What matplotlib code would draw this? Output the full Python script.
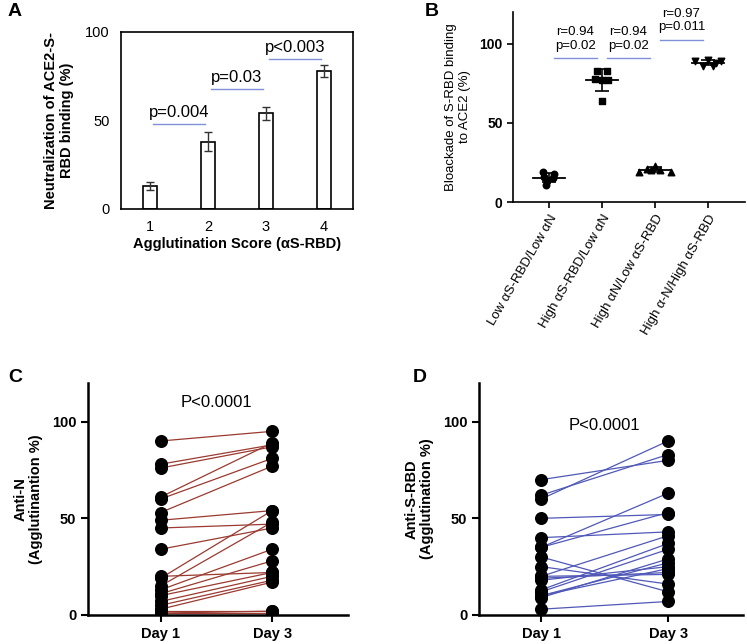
import matplotlib
matplotlib.use("Agg")
import matplotlib.pyplot as plt
import numpy as np

plt.rcParams['font.family'] = ['Liberation Sans', 'DejaVu Sans']

# ---- Panel A data ----
a_scores = [1, 2, 3, 4]
a_values = [13, 38, 54, 78]
a_err = [2, 5.5, 3.5, 3.5]
a_pairs = [(1.05, 1.95, 48, "p=0.004"), (2.05, 2.95, 68, "p=0.03"), (3.05, 3.95, 85, "p<0.003")]

# ---- Panel B data ----
b_groups = ["Low αS-RBD/Low αN", "High αS-RBD/Low αN", "High αN/Low αS-RBD", "High α-N/High αS-RBD"]
b_g1 = [19, 18, 16, 15, 13, 11]
b_g2 = [83, 83, 78, 77, 77, 64]
b_g3 = [23, 21, 20, 20, 19, 19]
b_g4 = [90, 89, 89, 86, 86, 88]
b_jitter = [
    [-0.12, 0.1, -0.1, 0.08, -0.03, -0.05],
    [-0.1, 0.1, -0.13, 0.0, 0.12, 0.0],
    [0.0, -0.15, -0.08, 0.1, -0.3, 0.3],
    [0.0, -0.25, 0.25, -0.1, 0.1, 0.15],
]
b_markers = ['o', 's', '^', 'v']
b_annots = [(0.2, 0.8, 91, "r=0.94\np=0.02"), (1.2, 1.8, 91, "r=0.94\np=0.02"), (2.2, 2.8, 102.5, "r=0.97\np=0.011")]

# ---- Panel C data ----
c_day1 = [90, 78, 76, 61, 60, 53, 49, 45, 34, 19, 15, 20, 13, 11, 10, 7, 5, 3, 1, 1, 2]
c_day3 = [95, 88, 87, 89, 81, 77, 54, 47, 45, 54, 48, 22, 34, 28, 22, 20, 18, 17, 2, 1, 2]

# ---- Panel D data ----
d_day1 = [70, 62, 60, 50, 40, 35, 35, 30, 25, 20, 19, 18, 13, 12, 10, 10, 9, 3, 20]
d_day3 = [80, 83, 90, 52, 43, 63, 53, 12, 16, 41, 22, 25, 37, 34, 27, 24, 29, 7, 21]
days = ["Day 1", "Day 3"]

W, H = 747, 644
fig = plt.figure(figsize=(W/100, H/100), dpi=100)

def rect(l, r, t, b):
    return [l/W, 1-b/H, (r-l)/W, (b-t)/H]

# ---------- A ----------
axA = fig.add_axes(rect(121, 353, 32, 209))
axA.bar(a_scores, a_values, width=0.25, color='white', edgecolor='black', linewidth=1.2,
        yerr=a_err, error_kw=dict(ecolor='#333333', capsize=3, elinewidth=1, capthick=1))
axA.set_xlim(0.5, 4.5)
axA.set_ylim(0, 100)
axA.set_yticks([0, 50, 100])
axA.set_xticks(a_scores)
axA.tick_params(length=0, labelsize=10.5, pad=8)
for s in axA.spines.values():
    s.set_linewidth(1.2)
for x0, x1, y, t in a_pairs:
    axA.plot([x0, x1], [y, y], color='#8090d8', lw=1)
    axA.text((x0 + x1)/2, y + 2, t, ha='center', va='bottom', fontsize=12)
axA.set_ylabel("Neutralization of ACE2-S-\nRBD binding (%)", fontsize=10.5, fontweight='bold', labelpad=8)
axA.set_xlabel("Agglutination Score (αS-RBD)", fontsize=10.5, fontweight='bold', labelpad=2)
fig.text(8/W, 1-12/H, "A", fontsize=14, fontweight='bold', va='center')

# ---------- B ----------
axB = fig.add_axes(rect(513, 745, 12, 202))
for i, (vals, m, jit) in enumerate(zip([b_g1, b_g2, b_g3, b_g4], b_markers, b_jitter)):
    xs = i + np.array(jit)
    axB.scatter(xs, vals, marker=m, s=22, color='black', zorder=3)
    mu = np.mean(vals); sd = np.std(vals, ddof=1)
    axB.plot([i - 0.3, i + 0.3], [mu, mu], color='black', lw=1.3, zorder=4)
    axB.errorbar(i, mu, yerr=sd, color='black', capsize=5, lw=1.2, capthick=1.2, zorder=4)
axB.set_xlim(-0.68, 3.7)
axB.set_ylim(0, 120)
axB.set_yticks([0, 50, 100])
axB.set_xticks(range(4))
axB.set_xticklabels(b_groups, rotation=60, ha='right', rotation_mode='anchor', fontsize=9.5)
axB.tick_params(axis='y', labelsize=10, length=4, width=1.2)
axB.tick_params(axis='x', length=4, width=1.2)
for lbl in axB.get_yticklabels():
    lbl.set_fontweight('bold')
axB.spines['top'].set_visible(False)
axB.spines['right'].set_visible(False)
axB.spines['left'].set_linewidth(1.2)
axB.spines['bottom'].set_linewidth(1.2)
for x0, x1, y, t in b_annots:
    axB.plot([x0 - 0.1, x1 + 0.1], [y, y], color='#8090d8', lw=1)
    axB.text((x0 + x1)/2, y + 4, t, ha='center', va='bottom', fontsize=9.5, clip_on=False, linespacing=1.2)
axB.set_ylabel("Bloackade of S-RBD binding\nto ACE2 (%)", fontsize=9.5, labelpad=6)
fig.text(425/W, 1-12/H, "B", fontsize=14, fontweight='bold', va='center')

# ---------- C & D ----------
def paired(ax, d1, d3, color, ylabel, ptext, py):
    for a, b in zip(d1, d3):
        ax.plot([0, 1], [a, b], color=color, lw=0.9, zorder=2)
    ax.scatter([0]*len(d1), d1, s=70, color='black', zorder=3)
    ax.scatter([1]*len(d3), d3, s=70, color='black', zorder=3)
    ax.set_ylim(0, 120)
    ax.set_yticks([0, 50, 100])
    ax.set_xticks([0, 1])
    ax.set_xticklabels(days)
    ax.tick_params(labelsize=10.5, length=5, width=1.5)
    for lbl in ax.get_xticklabels() + ax.get_yticklabels():
        lbl.set_fontweight('bold')
    ax.spines['top'].set_visible(False)
    ax.spines['right'].set_visible(False)
    ax.spines['left'].set_linewidth(1.8)
    ax.spines['bottom'].set_linewidth(1.8)
    ax.text(0.5, py, ptext, ha='center', va='center', fontsize=12)
    ax.set_ylabel(ylabel, fontsize=10.5, fontweight='bold', labelpad=6)

axC = fig.add_axes(rect(88, 348, 383, 615))
paired(axC, c_day1, c_day3, '#9a3a30', "Anti-N\n(Agglutinantion %)", "P<0.0001", 110)
axC.set_xlim(-0.65, 1.68)
fig.text(8/W, 1-377/H, "C", fontsize=14, fontweight='bold', va='center')

axD = fig.add_axes(rect(479, 743, 383, 615))
paired(axD, d_day1, d_day3, '#5058b8', "Anti-S-RBD\n(Agglutination %)", "P<0.0001", 98)
axD.set_xlim(-0.49, 1.59)
fig.text(413/W, 1-377/H, "D", fontsize=14, fontweight='bold', va='center')

fig.savefig("out.png", dpi=100)
